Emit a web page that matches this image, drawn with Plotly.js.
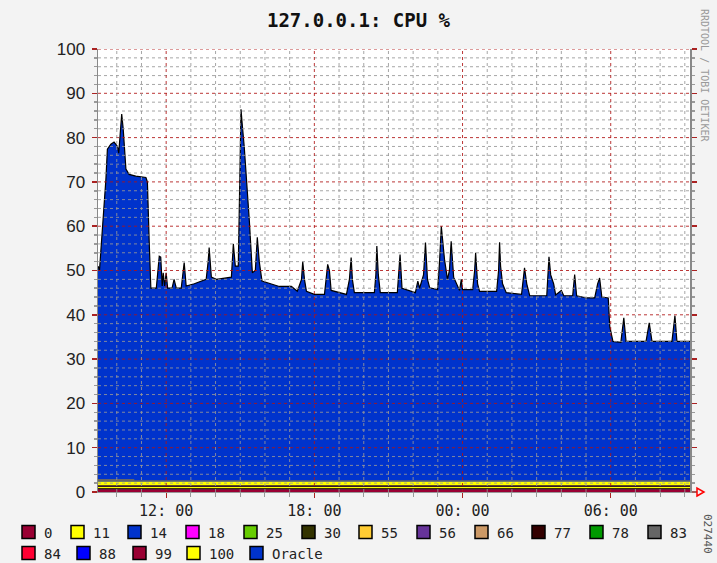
<!DOCTYPE html>
<html><head><meta charset="utf-8">
<script src="https://cdn.plot.ly/plotly-3.0.1.min.js"></script>
<style>html,body{margin:0;padding:0;background:#f3f3f3}#chart{width:717px;height:563px}</style>
</head><body><div id="chart"></div>
<script>
// time in hours since midnight of day 1 (24 = 00:00 next day)
const hours = [
9.24, 9.30, 9.35, 9.45, 9.56, 9.62, 9.76, 9.89, 10.03, 10.08,
10.16, 10.20, 10.26, 10.37, 10.50, 10.77, 11.18, 11.24, 11.31, 11.38,
11.60, 11.72, 11.78, 11.84, 11.88, 11.94, 12.00, 12.06, 12.24, 12.32,
12.41, 12.61, 12.73, 12.81, 13.14, 13.62, 13.70, 13.74, 13.83, 14.03,
14.64, 14.72, 14.80, 14.92, 14.98, 15.03, 15.08, 15.16, 15.37, 15.49,
15.61, 15.69, 15.77, 15.88, 16.58, 17.07, 17.31, 17.48, 17.53, 17.60,
17.68, 18.00, 18.41, 18.49, 18.54, 18.61, 18.68, 19.30, 19.42, 19.49,
19.54, 19.62, 20.43, 20.49, 20.53, 20.59, 20.67, 21.36, 21.47, 21.55,
22.09, 22.19, 22.26, 22.42, 22.50, 22.58, 22.67, 22.99, 23.07, 23.14,
23.19, 23.27, 23.39, 23.47, 23.54, 23.64, 23.88, 23.95, 24.00, 24.41,
24.49, 24.53, 24.61, 24.69, 25.38, 25.46, 25.50, 25.54, 25.62, 25.77,
26.39, 26.47, 26.51, 26.60, 26.72, 27.41, 27.50, 27.57, 27.69, 27.77,
28.00, 28.10, 28.46, 28.54, 28.62, 29.03, 29.35, 29.47, 29.55, 29.64,
29.90, 29.96, 30.09, 30.41, 30.49, 30.53, 30.62, 31.43, 31.56, 31.67,
32.48, 32.54, 32.60, 32.68, 33.21];
// top of the stack (Oracle area top), CPU %
const oracleTop = [
51, 50, 54, 61, 70.6, 77.4, 78.5, 79, 78, 76.5,
82, 85.3, 82, 72.9, 71.7, 71.3, 71, 70, 57, 46,
46, 53.2, 53, 46.5, 49.5, 46.5, 49.5, 46, 46, 48,
46, 46, 51.8, 46.5, 47, 48, 52, 55.2, 48.5, 48,
48.5, 56, 51, 51, 70, 86.4, 83, 78, 61, 49.5,
50, 57.5, 52, 47.6, 46.4, 46.4, 45.3, 48, 52, 48,
45.3, 44.6, 44.6, 48, 51.4, 50, 45.5, 44.6, 48, 52.9,
48, 45, 45, 49, 55.5, 49, 45, 45, 53.6, 46,
45, 47.6, 46, 49, 56.3, 48, 46.1, 45.7, 52, 60,
57, 52.5, 48, 50, 56.6, 48.5, 45.5, 48, 45.7, 45.7,
50, 54, 47, 45.3, 45.3, 50, 56.4, 51, 47, 45,
44.6, 48, 50.6, 47, 44.3, 44.3, 53.1, 49, 47, 44.5,
45.5, 44.3, 44.3, 49.1, 44.3, 43.8, 43.8, 47, 48.3, 44,
43.8, 37.4, 34, 33.8, 37, 39.3, 34, 34, 38.2, 34,
34, 37, 39.8, 34, 34];

// small process layers at the bottom of the stack
const baseHours = [9.24, 10.70, 10.72, 33.21];
const val0   = [0.6, 0.6, 0.6, 0.6];
const val30  = [0.3, 0.3, 0.3, 0.3];
const val11  = [0.3, 0.3, 0.3, 0.3];
const val77  = [0.35, 0.35, 0.35, 0.35];
const val100 = [0.8, 0.8, 0.8, 0.8];
const val83  = [0.6, 0.6, 0.3, 0.3];

const legendNames = ['0','11','14','18','25','30','55','56','66','77','78','83','84','88','99','100','Oracle'];
const legendColors = ['#990033','#ffff00','#0033cc','#ff00ff','#66cc00','#333300','#ffcc33','#663399','#cc9966','#330000','#009900','#666666','#ff0033','#0000ff','#990033','#ffff00','#0033cc'];

const xTickVals = [12, 18, 24, 30];
const xTickText = ['12: 00', '18: 00', '00: 00', '06: 00'];

const colorOf = n => legendColors[legendNames.indexOf(n)];

const traces = [{
  x: hours, y: oracleTop, type: 'scatter', mode: 'lines', name: 'Oracle',
  fill: 'tozeroy', fillcolor: colorOf('Oracle'),
  line: {color: '#000', width: 1.2}, hoverinfo: 'x+y'
}];
const baseLayers = [['0', val0], ['30', val30], ['11', val11], ['77', val77], ['100', val100], ['83', val83]];
baseLayers.forEach(([n, v]) => traces.push({
  x: baseHours, y: v, type: 'scatter', mode: 'lines', name: n, stackgroup: 'base',
  fillcolor: colorOf(n), line: {width: 0, color: colorOf(n)}
}));

// plot geometry (pixels) for decoration placement
const L = 98, R = 27, T = 49, B = 71, W = 717, H = 563;
const PW = W - L - R, PH = H - T - B;
const px = x => (x - L) / PW;
const py = y => (H - B - y) / PH;

const shapes = [];
for (let v = 2; v <= 100; v += 2) {
  const major = v % 10 === 0;
  shapes.push({type: 'line', xref: 'paper', yref: 'y', x0: 0, x1: 1, y0: v, y1: v, layer: 'above',
    line: {color: major ? 'rgba(175,20,20,0.85)' : 'rgba(150,150,150,0.85)', width: 1, dash: 'dot'}});
}
for (let h = 10; h <= 33; h++) {
  const major = h % 6 === 0;
  shapes.push({type: 'line', xref: 'x', yref: 'paper', x0: h, x1: h, y0: 0, y1: 1, layer: 'above',
    line: {color: major ? 'rgba(175,20,20,0.85)' : 'rgba(150,150,150,0.85)', width: 1, dash: 'dot'}});
}
// arrow at end of x axis
shapes.push({type: 'line', xref: 'paper', yref: 'paper', x0: 1, x1: px(697), y0: 0, y1: 0, line: {color: '#999', width: 1}});
shapes.push({type: 'path', xref: 'paper', yref: 'paper', xsizemode: 'pixel', ysizemode: 'pixel', xanchor: 1, yanchor: 0,
  path: 'M 7 -4 L 14 0 L 7 4 Z', line: {color: '#ff0000', width: 1.5}, fillcolor: 'rgba(0,0,0,0)'});

// legend (manual, RRD style)
const legendSlotX = [22, 71, 128, 186, 244, 302, 359, 417, 475, 532, 590, 648, 22, 77, 133, 187, 250];
const annotations = [];
legendNames.forEach((n, i) => {
  const row = i < 12 ? 0 : 1;
  const top = row === 0 ? 525.5 : 546.5;
  const x0 = legendSlotX[i];
  shapes.push({type: 'rect', xref: 'paper', yref: 'paper', x0: px(x0), x1: px(x0 + 13), y0: py(top), y1: py(top + 13),
    fillcolor: legendColors[i], line: {color: '#000', width: 1.5}});
  annotations.push({xref: 'paper', yref: 'paper', x: px(x0 + 20), y: py(top + 7), xanchor: 'left', yanchor: 'middle',
    showarrow: false, text: n, font: {family: 'DejaVu Sans Mono', size: 14, color: '#222'}});
});
annotations.push({xref: 'paper', yref: 'paper', x: px(705), y: py(75), xanchor: 'center', yanchor: 'middle',
  showarrow: false, textangle: 90, text: 'RRDTOOL / TOBI OETIKER', font: {family: 'DejaVu Sans Mono', size: 10, color: '#999'}});
annotations.push({xref: 'paper', yref: 'paper', x: px(708), y: py(512), xanchor: 'center', yanchor: 'top',
  showarrow: false, textangle: 90, text: '027440', font: {family: 'DejaVu Sans Mono', size: 11, color: '#555'}});

const layout = {
  width: W, height: H,
  margin: {l: L, r: R, t: T, b: B, pad: 0},
  paper_bgcolor: '#f3f3f3', plot_bgcolor: '#ffffff',
  showlegend: false,
  title: {text: '<b>127.0.0.1: CPU %</b>', x: 0.5, xref: 'container', y: 1 - 20 / H, yref: 'container', yanchor: 'middle',
    font: {family: 'DejaVu Sans Mono', size: 19, color: '#111'}},
  xaxis: {
    range: [9.24, 33.21], tickmode: 'array', tickvals: xTickVals, ticktext: xTickText,
    showgrid: false, zeroline: false, showline: true, linecolor: '#999', linewidth: 1,
    ticks: 'outside', ticklen: 5, tickcolor: '#aa2222', tickwidth: 1,
    minor: {tickmode: 'linear', tick0: 0, dtick: 1, ticks: 'outside', ticklen: 4, tickcolor: '#999', showgrid: false},
    tickfont: {family: 'DejaVu Sans Mono', size: 15, color: '#222'}, fixedrange: true
  },
  yaxis: {
    range: [0, 100], dtick: 10, tick0: 0,
    showgrid: false, zeroline: false, showline: true, linecolor: '#888', linewidth: 1.5, mirror: 'ticks',
    ticks: 'outside', ticklen: 5, tickcolor: '#aa2222', tickwidth: 1.5,
    minor: {dtick: 2, ticks: 'outside', ticklen: 3, tickcolor: '#999', showgrid: false},
    tickfont: {family: 'Liberation Sans', size: 17, color: '#222'}, ticklabelstandoff: 3, fixedrange: true
  },
  shapes: shapes, annotations: annotations
};

Plotly.newPlot('chart', traces, layout, {displayModeBar: false, staticPlot: true});
</script>
</body></html>
